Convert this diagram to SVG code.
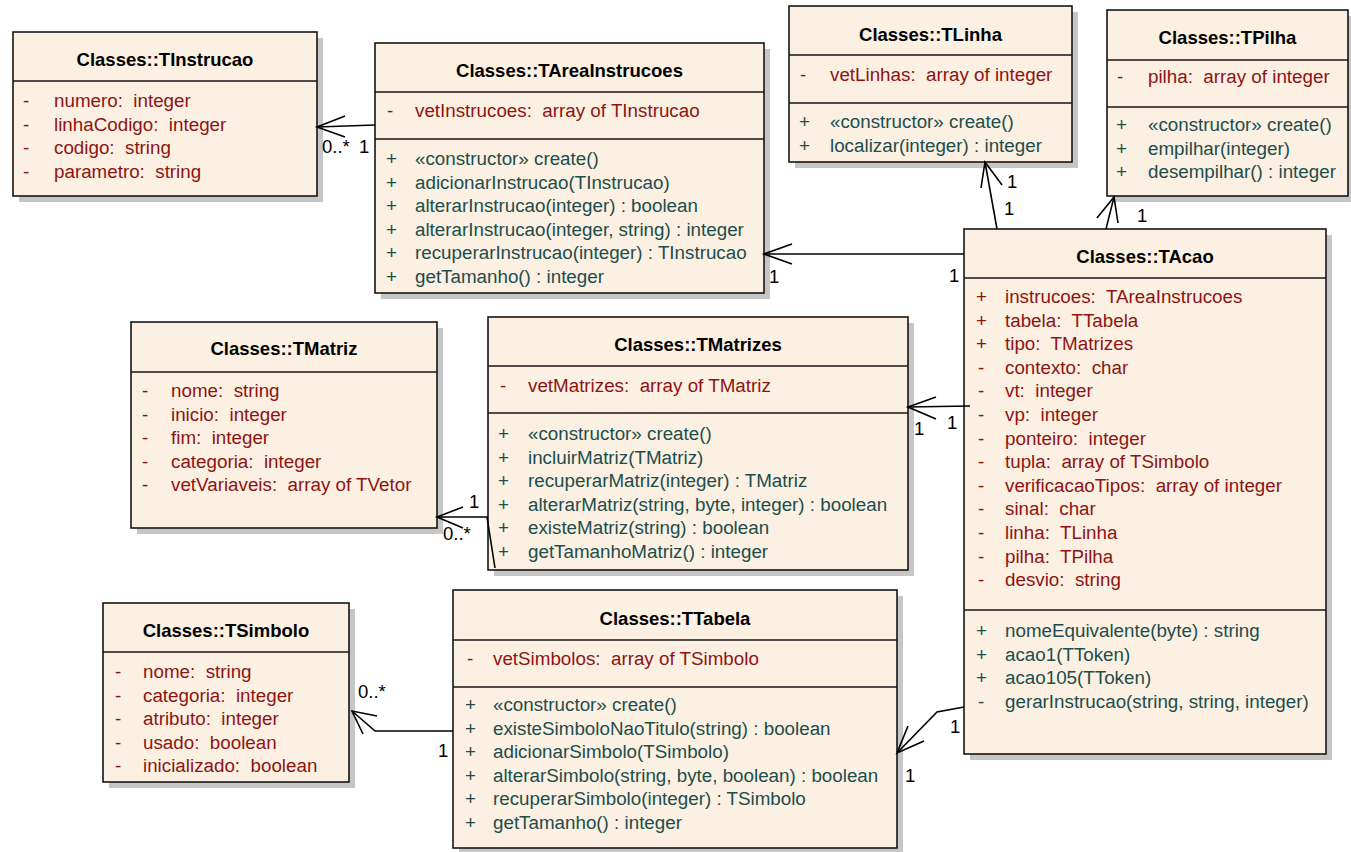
<svg xmlns="http://www.w3.org/2000/svg" width="1351" height="852" viewBox="0 0 1351 852">
<style>
text{font-family:"Liberation Sans",Arial,sans-serif;font-size:18.8px;white-space:pre}
.bx{fill:#fbf0e2;stroke:#161616;stroke-width:1.6}
.sh{fill:#c6c6c6}
.dv{stroke:#161616;stroke-width:1.6}
.t{font-weight:bold;font-size:18.5px;text-anchor:middle;fill:#000}
.a{fill:#8e1414}
.m{fill:#1d4d4c}
.l{fill:#000;font-size:18.5px}
.c{stroke:#000;stroke-width:1.6;fill:none}
</style>
<rect width="1351" height="852" fill="#fff"/>

<g id="TInstrucao">
<rect class="sh" x="19" y="38" width="304" height="164"/>
<rect class="bx" x="13" y="32" width="304" height="164"/>
<line class="dv" x1="13" y1="81" x2="317" y2="81"/>
<text class="t" x="165" y="66">Classes::TInstrucao</text>
<g class="a">
<text x="23" y="107">-</text><text x="54" y="107" xml:space="preserve">numero:  integer</text>
<text x="23" y="131">-</text><text x="54" y="131" xml:space="preserve">linhaCodigo:  integer</text>
<text x="23" y="154">-</text><text x="54" y="154" xml:space="preserve">codigo:  string</text>
<text x="23" y="178">-</text><text x="54" y="178" xml:space="preserve">parametro:  string</text>
</g>
</g>

<g id="TAreaInstrucoes">
<rect class="sh" x="381" y="49" width="389" height="250"/>
<rect class="bx" x="375" y="43" width="389" height="250"/>
<line class="dv" x1="375" y1="92" x2="764" y2="92"/>
<line class="dv" x1="375" y1="139" x2="764" y2="139"/>
<text class="t" x="569.5" y="77">Classes::TAreaInstrucoes</text>
<g class="a"><text x="387" y="117">-</text><text x="415" y="117" xml:space="preserve">vetInstrucoes:  array of TInstrucao</text></g>
<g class="m">
<text x="386" y="165">+</text><text x="415" y="165">«constructor» create()</text>
<text x="386" y="188.6">+</text><text x="415" y="188.6">adicionarInstrucao(TInstrucao)</text>
<text x="386" y="212.2">+</text><text x="415" y="212.2">alterarInstrucao(integer) : boolean</text>
<text x="386" y="235.8">+</text><text x="415" y="235.8">alterarInstrucao(integer, string) : integer</text>
<text x="386" y="259.4">+</text><text x="415" y="259.4">recuperarInstrucao(integer) : TInstrucao</text>
<text x="386" y="283">+</text><text x="415" y="283">getTamanho() : integer</text>
</g>
</g>

<g id="TLinha">
<rect class="sh" x="795" y="12" width="283" height="156"/>
<rect class="bx" x="789" y="6" width="283" height="156"/>
<line class="dv" x1="789" y1="55" x2="1072" y2="55"/>
<line class="dv" x1="789" y1="103" x2="1072" y2="103"/>
<text class="t" x="930.5" y="41">Classes::TLinha</text>
<g class="a"><text x="800" y="81">-</text><text x="830" y="81" xml:space="preserve">vetLinhas:  array of integer</text></g>
<g class="m">
<text x="799" y="128">+</text><text x="830" y="128">«constructor» create()</text>
<text x="799" y="152">+</text><text x="830" y="152">localizar(integer) : integer</text>
</g>
</g>

<g id="TPilha">
<rect class="sh" x="1113" y="16" width="241" height="186"/>
<rect class="bx" x="1107" y="10" width="241" height="186"/>
<line class="dv" x1="1107" y1="60" x2="1348" y2="60"/>
<line class="dv" x1="1107" y1="107" x2="1348" y2="107"/>
<text class="t" x="1227.5" y="44">Classes::TPilha</text>
<g class="a"><text x="1117" y="83">-</text><text x="1148" y="83" xml:space="preserve">pilha:  array of integer</text></g>
<g class="m">
<text x="1116" y="131">+</text><text x="1148" y="131">«constructor» create()</text>
<text x="1116" y="154.6">+</text><text x="1148" y="154.6">empilhar(integer)</text>
<text x="1116" y="178.2">+</text><text x="1148" y="178.2">desempilhar() : integer</text>
</g>
</g>

<g id="TAcao">
<rect class="sh" x="970" y="235" width="362" height="525"/>
<rect class="bx" x="964" y="229" width="362" height="525"/>
<line class="dv" x1="964" y1="278" x2="1326" y2="278"/>
<line class="dv" x1="964" y1="610" x2="1326" y2="610"/>
<text class="t" x="1145" y="263">Classes::TAcao</text>
<g class="a" xml:space="preserve">
<text x="976" y="303">+</text><text x="1005" y="303">instrucoes:  TAreaInstrucoes</text>
<text x="976" y="326.6">+</text><text x="1005" y="326.6">tabela:  TTabela</text>
<text x="976" y="350.2">+</text><text x="1005" y="350.2">tipo:  TMatrizes</text>
<text x="978" y="373.8">-</text><text x="1005" y="373.8">contexto:  char</text>
<text x="978" y="397.4">-</text><text x="1005" y="397.4">vt:  integer</text>
<text x="978" y="421">-</text><text x="1005" y="421">vp:  integer</text>
<text x="978" y="444.6">-</text><text x="1005" y="444.6">ponteiro:  integer</text>
<text x="978" y="468.2">-</text><text x="1005" y="468.2">tupla:  array of TSimbolo</text>
<text x="978" y="491.8">-</text><text x="1005" y="491.8">verificacaoTipos:  array of integer</text>
<text x="978" y="515.4">-</text><text x="1005" y="515.4">sinal:  char</text>
<text x="978" y="539">-</text><text x="1005" y="539">linha:  TLinha</text>
<text x="978" y="562.6">-</text><text x="1005" y="562.6">pilha:  TPilha</text>
<text x="978" y="586.2">-</text><text x="1005" y="586.2">desvio:  string</text>
</g>
<g class="m">
<text x="976" y="637">+</text><text x="1005" y="637">nomeEquivalente(byte) : string</text>
<text x="976" y="660.6">+</text><text x="1005" y="660.6">acao1(TToken)</text>
<text x="976" y="684.2">+</text><text x="1005" y="684.2">acao105(TToken)</text>
<text x="978" y="707.8">-</text><text x="1005" y="707.8">gerarInstrucao(string, string, integer)</text>
</g>
</g>

<g id="TMatriz">
<rect class="sh" x="137" y="328" width="306" height="206"/>
<rect class="bx" x="131" y="322" width="306" height="206"/>
<line class="dv" x1="131" y1="372" x2="437" y2="372"/>
<text class="t" x="284" y="355">Classes::TMatriz</text>
<g class="a" xml:space="preserve">
<text x="142" y="397">-</text><text x="171" y="397">nome:  string</text>
<text x="142" y="420.6">-</text><text x="171" y="420.6">inicio:  integer</text>
<text x="142" y="444.2">-</text><text x="171" y="444.2">fim:  integer</text>
<text x="142" y="467.8">-</text><text x="171" y="467.8">categoria:  integer</text>
<text x="142" y="491.4">-</text><text x="171" y="491.4">vetVariaveis:  array of TVetor</text>
</g>
</g>

<g id="TMatrizes">
<rect class="sh" x="494" y="323" width="420" height="253"/>
<rect class="bx" x="488" y="317" width="420" height="253"/>
<line class="dv" x1="488" y1="366" x2="908" y2="366"/>
<line class="dv" x1="488" y1="413" x2="908" y2="413"/>
<text class="t" x="698" y="351">Classes::TMatrizes</text>
<g class="a"><text x="500" y="392">-</text><text x="528" y="392" xml:space="preserve">vetMatrizes:  array of TMatriz</text></g>
<g class="m">
<text x="498" y="440">+</text><text x="528" y="440">«constructor» create()</text>
<text x="498" y="463.6">+</text><text x="528" y="463.6">incluirMatriz(TMatriz)</text>
<text x="498" y="487.2">+</text><text x="528" y="487.2">recuperarMatriz(integer) : TMatriz</text>
<text x="498" y="510.8">+</text><text x="528" y="510.8">alterarMatriz(string, byte, integer) : boolean</text>
<text x="498" y="534.4">+</text><text x="528" y="534.4">existeMatriz(string) : boolean</text>
<text x="498" y="558">+</text><text x="528" y="558">getTamanhoMatriz() : integer</text>
</g>
</g>

<g id="TSimbolo">
<rect class="sh" x="109" y="609" width="246" height="179"/>
<rect class="bx" x="103" y="603" width="246" height="179"/>
<line class="dv" x1="103" y1="652" x2="349" y2="652"/>
<text class="t" x="226" y="637">Classes::TSimbolo</text>
<g class="a" xml:space="preserve">
<text x="115" y="678">-</text><text x="143" y="678">nome:  string</text>
<text x="115" y="701.6">-</text><text x="143" y="701.6">categoria:  integer</text>
<text x="115" y="725.2">-</text><text x="143" y="725.2">atributo:  integer</text>
<text x="115" y="748.8">-</text><text x="143" y="748.8">usado:  boolean</text>
<text x="115" y="772.4">-</text><text x="143" y="772.4">inicializado:  boolean</text>
</g>
</g>

<g id="TTabela">
<rect class="sh" x="459" y="596" width="444" height="258"/>
<rect class="bx" x="453" y="590" width="444" height="258"/>
<line class="dv" x1="453" y1="640" x2="897" y2="640"/>
<line class="dv" x1="453" y1="687" x2="897" y2="687"/>
<text class="t" x="675" y="625">Classes::TTabela</text>
<g class="a"><text x="467" y="665">-</text><text x="493" y="665" xml:space="preserve">vetSimbolos:  array of TSimbolo</text></g>
<g class="m">
<text x="465" y="711">+</text><text x="493" y="711">«constructor» create()</text>
<text x="465" y="734.6">+</text><text x="493" y="734.6">existeSimboloNaoTitulo(string) : boolean</text>
<text x="465" y="758.2">+</text><text x="493" y="758.2">adicionarSimbolo(TSimbolo)</text>
<text x="465" y="781.8">+</text><text x="493" y="781.8">alterarSimbolo(string, byte, boolean) : boolean</text>
<text x="465" y="805.4">+</text><text x="493" y="805.4">recuperarSimbolo(integer) : TSimbolo</text>
<text x="465" y="829">+</text><text x="493" y="829">getTamanho() : integer</text>
</g>
</g>

<g id="connectors">
<polyline class="c" points="375,125 317,127"/>
<polyline class="c" points="345,116 317,127 345,137"/>
<text class="l" x="322" y="153">0..*</text><text class="l" x="359" y="153">1</text>

<polyline class="c" points="964,254 764,254"/>
<polyline class="c" points="792,244 764,254 792,264"/>
<text class="l" x="769" y="283">1</text><text class="l" x="949" y="282">1</text>

<polyline class="c" points="997,229 985,162"/>
<polyline class="c" points="981,188 985,162 1002,185"/>
<text class="l" x="1007" y="188">1</text><text class="l" x="1004" y="215">1</text>

<polyline class="c" points="1106,229 1114,197"/>
<polyline class="c" points="1097,218 1114,197 1118,223"/>
<text class="l" x="1137" y="222">1</text>

<polyline class="c" points="970,406 908,407"/>
<polyline class="c" points="936,397 908,407 936,419"/>
<text class="l" x="914" y="435">1</text><text class="l" x="947" y="429">1</text>

<polyline class="c" points="495,568 487,517 437,517"/>
<polyline class="c" points="463,507 437,517 463,528"/>
<text class="l" x="469" y="508">1</text><text class="l" x="443" y="540">0..*</text>

<polyline class="c" points="964,707 937,712 897,753"/>
<polyline class="c" points="908,726 897,753 924,741"/>
<text class="l" x="950" y="733">1</text><text class="l" x="905" y="782">1</text>

<polyline class="c" points="453,731 375,731 352,711"/>
<polyline class="c" points="377,716 352,711 363,734"/>
<text class="l" x="358" y="698">0..*</text><text class="l" x="438" y="757">1</text>
</g>
</svg>
